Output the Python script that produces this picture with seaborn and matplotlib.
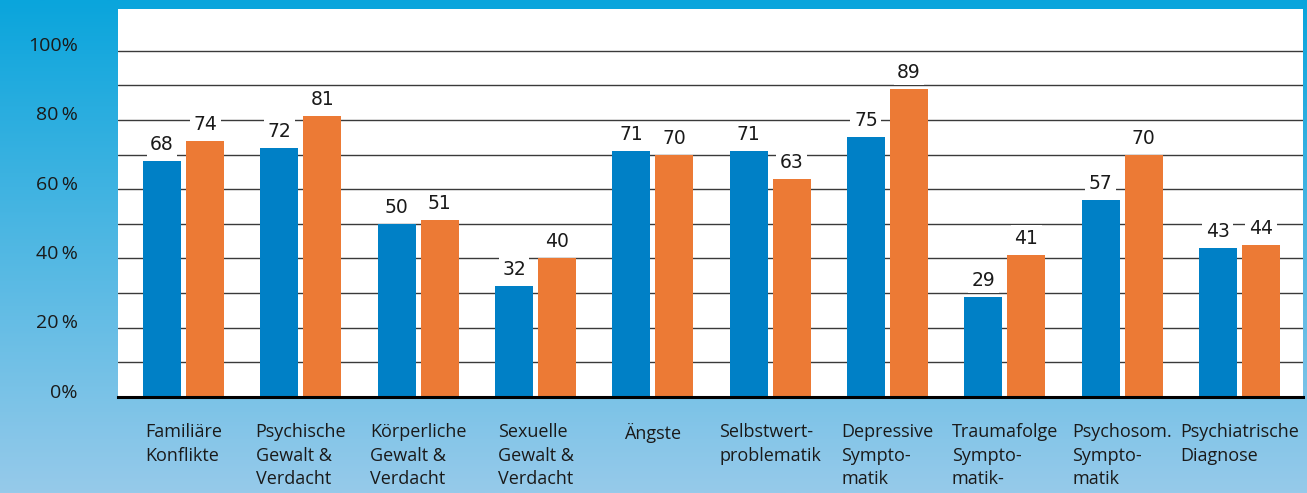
import numpy as np
import pandas as pd
import matplotlib
matplotlib.use("Agg")
import matplotlib.pyplot as plt
from matplotlib.transforms import ScaledTranslation
import seaborn as sns

# --- data -------------------------------------------------------------
categories = [
    "Familiäre\nKonflikte",
    "Psychische\nGewalt &\nVerdacht",
    "Körperliche\nGewalt &\nVerdacht",
    "Sexuelle\nGewalt &\nVerdacht",
    "Ängste",
    "Selbstwert-\nproblematik",
    "Depressive\nSympto-\nmatik",
    "Traumafolge\nSympto-\nmatik-",
    "Psychosom.\nSympto-\nmatik",
    "Psychiatrische\nDiagnose",
]
series_names = ["Erhebung 1", "Erhebung 2"]
values_1 = [68, 72, 50, 32, 71, 71, 75, 29, 57, 43]
values_2 = [74, 81, 51, 40, 70, 63, 89, 41, 70, 44]
ytick_values = [0, 20, 40, 60, 80, 100]
ytick_labels = ["0%", "20\u2009%", "40\u2009%", "60\u2009%", "80\u2009%", "100%"]

BLUE = "#0080c6"
ORANGE = "#ec7a35"
TEXT = "#1a1a1a"

df = pd.DataFrame({
    "Kategorie": categories * 2,
    "Serie": [series_names[0]] * len(categories) + [series_names[1]] * len(categories),
    "Wert": values_1 + values_2,
})

sns.set_theme(style="white")
plt.rcParams["font.family"] = ["Open Sans", "DejaVu Sans"]

W, H = 1307, 493
fig = plt.figure(figsize=(W / 100, H / 100), dpi=100)

# vertical blue gradient behind everything
bg = fig.add_axes([0, 0, 1, 1], zorder=-10)
top_col = np.array([10, 165, 220]) / 255
bot_col = np.array([150, 202, 234]) / 255
t = np.linspace(0, 1, 256)[:, None]
grad = (top_col[None, :] * (1 - t) + bot_col[None, :] * t)[:, None, :]
bg.imshow(grad, aspect="auto", extent=[0, 1, 0, 1])
bg.set_axis_off()

ax = fig.add_axes([118 / W, 1 - 397 / H, (1303 - 118) / W, (397 - 9) / H])
ax.set_facecolor("white")

sns.barplot(
    data=df, x="Kategorie", y="Wert", hue="Serie",
    palette=[BLUE, ORANGE], saturation=1, width=0.735, gap=0.117,
    legend=False, ax=ax, zorder=3, edgecolor="none", linewidth=0,
)

ax.set_xlim(-0.559, 9.542)
ax.set_ylim(0, 112)
ax.set_xlabel("")
ax.set_ylabel("")

# horizontal rules every 10 %
ax.set_yticks(ytick_values)
ax.set_yticks(range(10, 100, 20), minor=True)
ax.set_yticklabels(ytick_labels, fontsize=14, color=TEXT)
ax.yaxis.grid(True, which="both", color="#3a3a3a", linewidth=1.0)
ax.set_axisbelow(True)
ax.tick_params(axis="y", which="both", length=0, pad=29)
ax.tick_params(axis="x", length=0, pad=18.5)
offset = ScaledTranslation(0, 6.5 / 100, fig.dpi_scale_trans)
for lab in ax.get_yticklabels():
    lab.set_transform(lab.get_transform() + offset)

for lab in ax.get_xticklabels():
    lab.set_fontsize(13)
    lab.set_color(TEXT)
    lab.set_horizontalalignment("center")
    lab.set_multialignment("left")
    lab.set_linespacing(1.42)

for side in ["top", "left", "right"]:
    ax.spines[side].set_visible(False)
ax.spines["bottom"].set_color("black")
ax.spines["bottom"].set_linewidth(2.2)
ax.spines["bottom"].set_zorder(5)

# value labels on white patches that interrupt the rules
for cont in ax.containers:
    ax.bar_label(
        cont, fmt="%d", padding=5, fontsize=13.5, color=TEXT,
        family="DejaVu Sans", zorder=4,
        bbox=dict(facecolor="white", edgecolor="none", pad=2.5),
    )

fig.savefig("out.png", dpi=100)
